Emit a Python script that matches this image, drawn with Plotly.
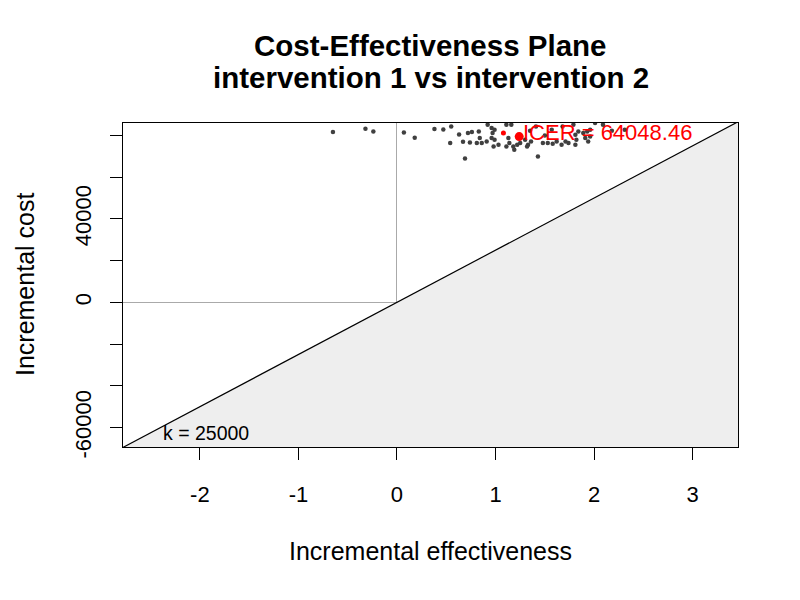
import plotly.graph_objects as go

# ---- data ----
delta_e = [-0.65, -0.32, -0.24, 0.07, 0.18, 0.38, 0.47, 0.55, 0.63, 0.72, 0.76, 0.83,
           0.54, 0.67, 0.74, 0.69, 0.92, 0.96, 0.97, 0.99, 0.96, 0.91, 0.86, 1.03,
           0.99, 1.11, 1.16, 1.13, 1.14, 1.19, 1.18, 1.25, 1.30, 1.33, 1.36, 1.43,
           1.48, 1.53, 1.58, 1.79, 1.81, 1.84, 1.93, 1.96, 2.01, 1.67, 1.74, 1.82,
           1.81, 1.91, 1.96, 1.94, 1.62, 2.31, 1.41, 1.57, 1.68, 2.09, 2.18, 1.50,
           1.35, 0.84, 0.81, 0.98, 1.11, 1.22, 1.32, 1.71, 1.89]
delta_c = [81600, 83200, 81900, 81400, 78900, 83000, 82800, 84300, 80400, 81100, 81600, 81900,
           76300, 76900, 76600, 68900, 85100, 83500, 81100, 82700, 78700, 77100, 76300, 75500,
           77900, 85100, 85100, 78700, 76300, 73100, 74700, 76300, 77900, 75500, 77100, 69900,
           76300, 76300, 76000, 85100, 80300, 81900, 81900, 82700, 85900, 75500, 76300, 77900,
           75500, 78700, 79500, 77100, 77100, 82700, 84200, 82700, 84200, 85100, 82200, 79900,
           82200, 78700, 76300, 74700, 74700, 75500, 74700, 77100, 81100]

extra_e = [1.08]
extra_c = [81100]

mean_e = 1.24
mean_c = 79420
icer_label = "ICER = 64048.46"
wtp_k = 25000
wtp_label = "k = 25000"

x_range = [-2.78, 3.46]
y_range = [-69310, 85920]
x_ticks = [-2, -1, 0, 1, 2, 3]
x_tick_text = ["-2", "-1", "0", "1", "2", "3"]
y_ticks = [-60000, -40000, -20000, 0, 20000, 40000, 60000, 80000]
y_tick_text = ["-60000", "", "", "0", "", "40000", "", ""]

title_line1 = "Cost-Effectiveness Plane"
title_line2 = "intervention 1 vs intervention 2"
x_title = "Incremental effectiveness"
y_title = "Incremental cost"

FONT = "Liberation Sans, Arial, Helvetica, sans-serif"

fig = go.Figure()

# shaded region (below the WTP line)
poly_x = [x_range[0], x_range[1], x_range[1], x_range[0]]
poly_y = [wtp_k * x_range[0], wtp_k * x_range[1], y_range[0] * 1.5, y_range[0] * 1.5]
fig.add_trace(go.Scatter(x=poly_x, y=poly_y, fill="toself", fillcolor="#EEEEEE",
                         line=dict(width=0), mode="lines", hoverinfo="skip", showlegend=False))

# WTP line
fig.add_trace(go.Scatter(x=x_range, y=[wtp_k * v for v in x_range], mode="lines",
                         line=dict(color="black", width=1.2), showlegend=False, hoverinfo="skip"))

# simulations
fig.add_trace(go.Scatter(x=delta_e, y=delta_c, mode="markers",
                         marker=dict(color="#404040", size=4.5), showlegend=False, cliponaxis=True))

fig.add_trace(go.Scatter(x=extra_e, y=extra_c, mode="markers",
                         marker=dict(color="#FF0000", size=5), showlegend=False, cliponaxis=True))

# ICER point
fig.add_trace(go.Scatter(x=[mean_e], y=[mean_c], mode="markers",
                         marker=dict(color="#FF0000", size=9), showlegend=False, cliponaxis=True))

fig.add_annotation(x=mean_e, y=mean_c, text=icer_label, showarrow=False,
                   xanchor="left", yanchor="middle", xshift=2, yshift=4,
                   font=dict(family=FONT, size=22, color="#FF0000"))

fig.add_annotation(x=-2.39, y=-62700, text=wtp_label, showarrow=False,
                   xanchor="left", yanchor="middle",
                   font=dict(family=FONT, size=19.5, color="black"))

# titles
fig.add_annotation(xref="paper", yref="paper", x=0.5, y=1.2407, text="<b>%s</b>" % title_line1,
                   showarrow=False, xanchor="center", yanchor="middle",
                   font=dict(family=FONT, size=29.5, color="black"))
fig.add_annotation(xref="paper", yref="paper", x=0.5, y=1.1389, text="<b>%s</b>" % title_line2,
                   showarrow=False, xanchor="center", yanchor="middle",
                   font=dict(family=FONT, size=29.5, color="black"))
fig.add_annotation(xref="paper", yref="paper", x=0.5, y=-0.321, text=x_title,
                   showarrow=False, xanchor="center", yanchor="middle",
                   font=dict(family=FONT, size=25, color="black"))
fig.add_annotation(xref="paper", yref="paper", x=-0.1593, y=0.5, text=y_title, textangle=-90,
                   showarrow=False, xanchor="center", yanchor="middle",
                   font=dict(family=FONT, size=25, color="black"))

fig.update_xaxes(range=x_range, tickvals=x_ticks, ticktext=x_tick_text, ticks="outside",
                 ticklen=12, tickwidth=1,
                 tickcolor="black", showline=True, linecolor="black", linewidth=1, mirror=True,
                 showgrid=False, zeroline=True, zerolinecolor="#AAAAAA", zerolinewidth=1.2,
                 tickfont=dict(family=FONT, size=22, color="black"), ticklabelstandoff=16)
fig.update_yaxes(range=y_range, tickvals=y_ticks, ticktext=y_tick_text, tickangle=-90,
                 ticks="outside", ticklen=12, tickwidth=1,
                 tickcolor="black", showline=True, linecolor="black", linewidth=1, mirror=True,
                 showgrid=False, zeroline=True, zerolinecolor="#AAAAAA", zerolinewidth=1.2,
                 tickfont=dict(family=FONT, size=22, color="black"), ticklabelstandoff=10)

# body margin of the page is 8px, so margins are shifted by 8px
fig.update_layout(width=800, height=600, margin=dict(l=115, r=70, t=115, b=161, autoexpand=False),
                  plot_bgcolor="white", paper_bgcolor="white", showlegend=False,
                  font=dict(family=FONT))

fig.write_html("out.html")
